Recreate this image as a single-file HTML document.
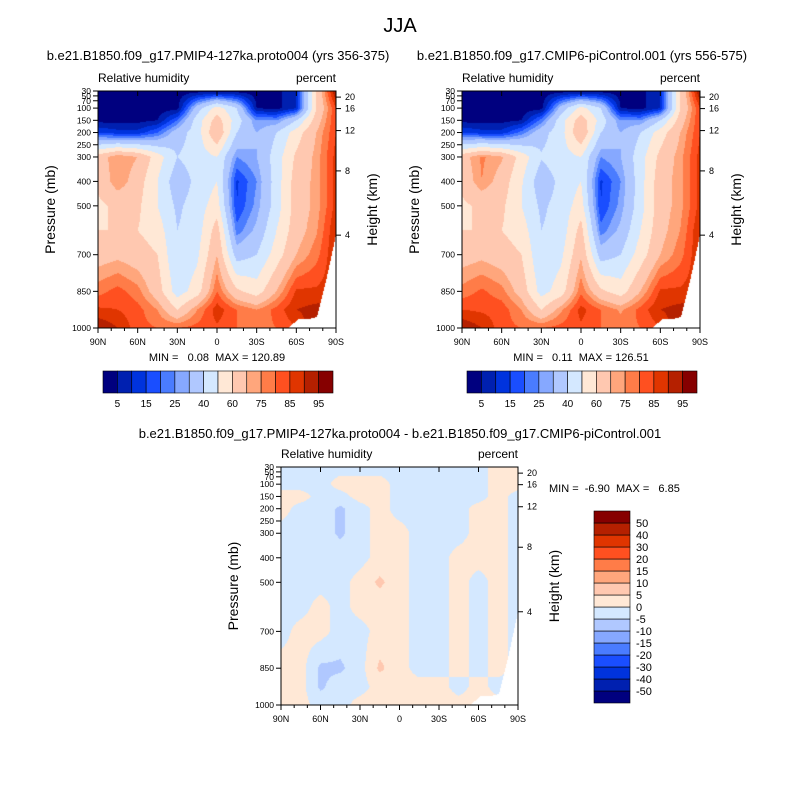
<!DOCTYPE html>
<html><head><meta charset="utf-8">
<style>
body{margin:0;background:#fff;}
#root{position:relative;width:800px;height:800px;overflow:hidden;background:#fff;font-family:"Liberation Sans",sans-serif;}
canvas{position:absolute;}
svg{position:absolute;left:0;top:0;}
</style></head>
<body>
<div id="root">
<canvas id="c1" width="238" height="237" style="left:98px;top:91px"></canvas>
<canvas id="c2" width="238" height="237" style="left:462px;top:91px"></canvas>
<canvas id="c3" width="237" height="238" style="left:281px;top:467px"></canvas>
<svg id="ov" width="800" height="800"></svg>
</div>
<script>
const lats=['90N','75N','60N','45N','30N','15N','0','15S','30S','45S','60S','75S','90S'];
const plevs=[30,100,150,200,300,400,500,600,700,850,925,1000];
const psurf=[1000,1000,1000,1000,1000,1000,1000,1000,1000,1000,1000,1000,1000,1000,1000,1000,1000,1000,1000,1000,1000,965,965,955,800,620];
const rh1=[
[2,2,2,2,2,2,2,2,2,3,10,60,96],
[2,2,2,2,3,35,55,40,5,3,10,60,85],
[3,3,3,5,20,45,65,45,25,25,40,65,85],
[15,12,12,20,35,45,70,40,30,40,55,70,85],
[65,75,70,55,40,45,50,25,30,45,62,72,87],
[62,75,65,50,33,43,50,14,25,45,65,72,87],
[58,62,62,50,38,45,55,15,27,45,65,72,87],
[60,60,60,55,40,45,65,22,32,50,66,74,90],
[66,68,65,60,40,48,70,35,40,55,70,78,90],
[78,82,77,65,45,55,80,62,55,70,86,86,88],
[86,85,82,75,60,75,88,80,75,82,90,92,92],
[95,90,82,80,80,82,84,80,78,80,85,96,96]];
const rh2=[
[2,2,2,2,2,2,2,2,2,3,10,60,96],
[2,2,2,2,3,34,54,40,5,3,10,60,85],
[3,3,3,5,22,46,66,46,25,25,40,65,85],
[15,12,12,22,36,46,70,40,30,40,55,70,85],
[66,76,71,56,41,46,50,25,30,46,63,73,87],
[63,75,66,51,33,43,50,14,25,46,66,73,87],
[58,62,62,50,38,44,55,15,27,46,66,73,87],
[60,60,60,55,40,44,64,22,32,50,67,75,90],
[66,68,65,60,41,48,69,35,40,55,70,78,90],
[77,81,77,66,46,55,79,62,55,70,86,86,88],
[85,84,83,75,60,74,87,80,74,82,90,92,92],
[95,90,82,80,80,82,84,80,78,80,85,96,96]];
const rhd=[
[-2,-2,-2,-2,-2,-2,-2,-2,-2,-2,-2,2,2],
[-2,-2,-2,2,2,2,-2,-2,-2,-2,-2,2,2],
[2,2,-2,-2,2,2,-2,-2,-2,-2,-2,2,-2],
[2,-2,-2,-6,-2,2,-2,-2,-2,-2,2,2,-2],
[-2,-2,-2,-6,-2,2,2,-2,-2,-2,2,2,-2],
[-2,-2,-2,-2,-2,2,2,-2,-2,2,2,2,-2],
[-2,-2,-2,-2,2,6,2,-2,-2,2,-2,2,-2],
[-2,-2,2,-2,2,2,2,-2,-2,2,-2,2,-2],
[-2,2,2,-2,-2,2,2,-2,-2,2,-2,2,-2],
[2,2,-6,-6,-2,6,2,-2,-2,2,-2,2,-2],
[2,2,-6,-2,-2,2,2,2,2,-2,2,-2,-2],
[2,2,-2,-2,2,2,2,2,2,2,2,2,-2]];
const levRH=[5,10,15,20,25,30,40,50,60,70,75,80,85,90,95];
const levD=[-50,-40,-30,-20,-15,-10,-5,0,5,10,15,20,30,40,50];
const cbLabRH=['5','15','25','40','60','75','85','95'];
const cbLabD=['50','40','30','20','15','10','5','0','-5','-10','-15','-20','-30','-40','-50'];
const xTicks=['90N','60N','30N','0','30S','60S','90S'];
const pTicks=[30,50,70,100,150,200,250,300,400,500,700,850,1000];
const hTicks=[20,16,12,8,4];
const hTickP=[55,102,192,357,620];
const pal=['#00007f','#0020b0','#0033dd','#1a4eff','#4a7cff','#86a8ff','#b0c8ff','#d4e8ff','#ffe8d6','#ffc8b0','#ffa67c','#ff7c48','#ff5020','#e03500','#b52000','#860000'];
function hex(c){return [parseInt(c.substr(1,2),16),parseInt(c.substr(3,2),16),parseInt(c.substr(5,2),16)];}
const palRGB=pal.map(hex);
function interpArr(arr,f){const i=Math.min(Math.floor(f),arr.length-2);const t=f-i;return arr[i]*(1-t)+arr[i+1]*t;}
function fill(id,grid,lev){
  const cv=document.getElementById(id),ctx=cv.getContext('2d');
  const W=cv.width,H=cv.height,img=ctx.createImageData(W,H);
  for(let py=0;py<H;py++){
    const p=30+(py+0.5)/H*970;
    let r=0;while(r<plevs.length-2&&plevs[r+1]<p)r++;
    const tp=Math.max(0,Math.min(1,(p-plevs[r])/(plevs[r+1]-plevs[r])));
    for(let px=0;px<W;px++){
      const f=(px+0.5)/W*(lats.length-1);
      const ps=interpArr(psurf,(px+0.5)/W*(psurf.length-1));
      const k=(py*W+px)*4;
      if(p>ps){img.data[k]=255;img.data[k+1]=255;img.data[k+2]=255;img.data[k+3]=255;continue;}
      const v=interpArr(grid[r],f)*(1-tp)+interpArr(grid[r+1],f)*tp;
      let ci=0;while(ci<lev.length&&v>=lev[ci])ci++;
      const c=palRGB[ci];
      img.data[k]=c[0];img.data[k+1]=c[1];img.data[k+2]=c[2];img.data[k+3]=255;
    }
  }
  ctx.putImageData(img,0,0);
}
fill('c1',rh1,levRH);fill('c2',rh2,levRH);fill('c3',rhd,levD);
const NS='http://www.w3.org/2000/svg',ov=document.getElementById('ov');
function el(tag,attrs,name,txt){const e=document.createElementNS(NS,tag);for(const a in attrs)e.setAttribute(a,attrs[a]);
  
  
  if(txt!==undefined)e.textContent=txt;ov.appendChild(e);return e;}
function txt(x,y,s,size,anchor,name,rot){const a={x:x,y:y,'font-size':size,'text-anchor':anchor||'start',fill:'#000'};if(rot)a.transform='rotate(-90 '+x+' '+y+')';return el('text',a,name,s);}
txt(400,32,'JJA',20,'middle','figure-title');
function panel(x0,y0,W,H,title,tx,ty,minmax,mmx,mmy,mmAnchor,pre){
  txt(tx,ty,title,13,'middle',pre+'-title');
  txt(x0,y0-9,'Relative humidity',12,'start',pre+'-variable-label');
  txt(x0+W,y0-9,'percent',12,'end',pre+'-units-label');
  el('rect',{x:x0,y:y0,width:W,height:H,fill:'none',stroke:'#000','stroke-width':1},pre+'-frame');
  const yP=p=>y0+(p-30)/970*H;
  pTicks.forEach(p=>{const y=yP(p);el('line',{x1:x0-5,y1:y,x2:x0,y2:y,stroke:'#000'},pre+'-y-tick');
    txt(x0-7,y+3,String(p),8.5,'end',pre+'-y-tick-label');});
  hTicks.forEach((h,i)=>{const y=yP(hTickP[i]);el('line',{x1:x0+W,y1:y,x2:x0+W+5,y2:y,stroke:'#000'},pre+'-height-tick');
    txt(x0+W+9,y+3,String(h),9,'start',pre+'-height-tick-label');});
  xTicks.forEach((s,i)=>{const x=x0+i/(xTicks.length-1)*W;
    el('line',{x1:x,y1:y0+H,x2:x,y2:y0+H+5,stroke:'#000'},pre+'-x-tick');
    el('line',{x1:x,y1:y0,x2:x,y2:y0+5,stroke:'#000'},pre+'-x-tick-top');
    txt(x,y0+H+17,s,9,'middle',pre+'-x-tick-label');});
  for(let i=0;i<18;i++){const x=x0+i/18*W;if(i%3)el('line',{x1:x,y1:y0+H,x2:x,y2:y0+H+3,stroke:'#000'},pre+'-x-minor-tick');}
  txt(x0-43,y0+H/2,'Pressure (mb)',14,'middle',pre+'-y-axis-title',true);
  txt(x0+W+41,y0+H/2,'Height (km)',14,'middle',pre+'-height-axis-title',true);
  el('text',{x:mmx,y:mmy,'font-size':11,'text-anchor':mmAnchor,fill:'#000','xml:space':'preserve','style':'white-space:pre'},pre+'-min-max',minmax);
}
panel(98,91,238,237,'b.e21.B1850.f09_g17.PMIP4-127ka.proto004 (yrs 356-375)',218,60,'MIN =   0.08  MAX = 120.89',217,361,'middle','left');
panel(462,91,238,237,'b.e21.B1850.f09_g17.CMIP6-piControl.001 (yrs 556-575)',582,60,'MIN =   0.11  MAX = 126.51',581,361,'middle','right');
panel(281,467,237,238,'b.e21.B1850.f09_g17.PMIP4-127ka.proto004 - b.e21.B1850.f09_g17.CMIP6-piControl.001',400,438,'MIN =  -6.90  MAX =   6.85',549,492,'start','diff');
function hbar(x0,y0,W,H,pre){const n=pal.length,bw=W/n;
  pal.forEach((c,i)=>el('rect',{x:x0+i*bw,y:y0,width:bw,height:H,fill:c,stroke:'#000','stroke-width':0.6},pre+'-colorbar-box'));
  cbLabRH.forEach((s,i)=>txt(x0+(2*i+1)*bw,y0+H+14,s,10,'middle',pre+'-colorbar-label'));}
hbar(103,371,230,22,'left');hbar(467,371,230,22,'right');
(function(){const x0=594,y0=511,W=36,H=192,n=pal.length,bh=H/n;
  pal.forEach((c,i)=>el('rect',{x:x0,y:y0+H-(i+1)*bh,width:W,height:bh,fill:c,stroke:'#000','stroke-width':0.6},'diff-colorbar-box'));
  cbLabD.forEach((s,i)=>txt(x0+W+6,y0+(i+1)*bh+4,s,11,'start','diff-colorbar-label'));})();
</script>
</body></html>
